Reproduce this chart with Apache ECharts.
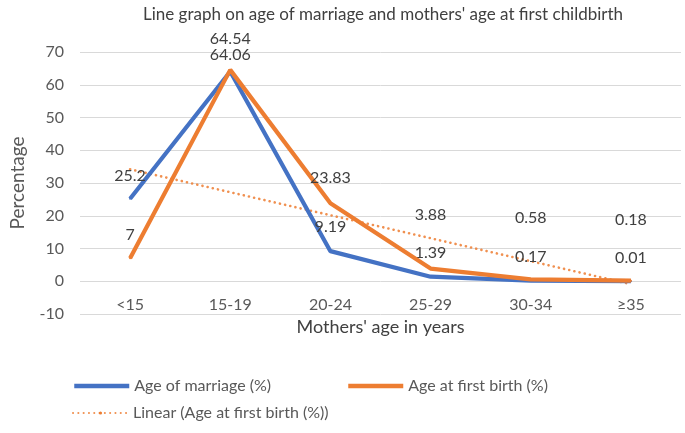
<!DOCTYPE html>
<html>
<head>
<meta charset="utf-8">
<script src="https://cdn.jsdelivr.net/npm/echarts@6/dist/echarts.min.js"></script>
<style>
html,body{margin:0;padding:0;background:#fff;}
#chart{width:685px;height:433px;}
</style>
</head>
<body>
<div id="chart"></div>
<script>
// ---- data ----
const categories = ['<15', '15-19', '20-24', '25-29', '30-34', '≥35'];
const ageOfMarriage = [25.2, 64.06, 9.19, 1.39, 0.17, 0.01];
const ageAtFirstBirth = [7, 64.54, 23.83, 3.88, 0.58, 0.18];
// linear trendline endpoints
const trendStart = 34.2;
const trendEnd = -0.9;
const yTicks = [-10, 0, 10, 20, 30, 40, 50, 60, 70];

const seriesNames = ['Age of marriage (%)', 'Age at first birth (%)', 'Linear (Age at first birth (%))'];

// ---- layout / style (not data) ----
const marriageLabelLift = [23, 17, 24, 24, 24, 23];
const birthLabelLift = [23, 31, 25, 54, 62, 61];
const FONT = 'Lato, "Liberation Sans", sans-serif';
const BLUE = '#4472C4';
const ORANGE = '#ED7D31';
const TXT = '#595959';
const GRID_TOP = 52, GRID_H = 262;
const yMin = yTicks[0], yMax = yTicks[yTicks.length - 1];
// move category axis up to the zero line
const zeroOffset = -GRID_H * (0 - yMin) / (yMax - yMin);

function withLabels(values, lifts) {
  return values.map((v, i) => ({
    value: v,
    label: { offset: [0, -lifts[i]] }
  }));
}

const labelBase = {
  show: true,
  position: 'inside',
  color: '#404040',
  fontFamily: FONT,
  fontSize: 16,
  textBorderWidth: 0,
  formatter: p => String(p.value)
};

const legendText = { fontFamily: FONT, fontSize: 16, color: TXT };

const chart = echarts.init(document.getElementById('chart'), null, { renderer: 'canvas' });
chart.setOption({
  animation: false,
  backgroundColor: '#fff',
  textStyle: { fontFamily: FONT },
  title: {
    text: 'Line graph on age of marriage and mothers\' age at first childbirth',
    left: 138,
    top: 1,
    textStyle: { fontFamily: FONT, fontSize: 17, fontWeight: 'normal', color: '#404040' }
  },
  grid: { left: 72, right: 4, top: GRID_TOP, height: GRID_H },
  legend: [
    {
      data: [seriesNames[0]], left: 67, top: 373,
      itemWidth: 55, itemHeight: 4,
      lineStyle: { width: 4.5 },
      textStyle: legendText
    },
    {
      data: [seriesNames[1]], left: 341, top: 373,
      itemWidth: 55, itemHeight: 4,
      lineStyle: { width: 4.5 },
      textStyle: legendText
    },
    {
      data: [seriesNames[2]], left: 67, top: 400,
      itemWidth: 55, itemHeight: 4,
      textStyle: legendText
    }
  ],
  xAxis: {
    type: 'category',
    data: categories,
    boundaryGap: true,
    position: 'bottom',
    offset: zeroOffset,
    name: 'Mothers\' age in years',
    nameLocation: 'middle',
    nameGap: 37,
    nameTextStyle: { fontFamily: FONT, fontSize: 18, color: '#404040' },
    axisLine: { show: false, onZero: false },
    axisTick: { show: false },
    axisLabel: { margin: 16, fontFamily: FONT, fontSize: 16, color: TXT },
    splitLine: { show: false }
  },
  yAxis: {
    type: 'value',
    min: yMin,
    max: yMax,
    interval: 10,
    name: 'Percentage',
    nameLocation: 'middle',
    nameRotate: 90,
    nameGap: 53,
    nameTextStyle: { fontFamily: FONT, fontSize: 19, color: TXT },
    axisLine: { show: false },
    axisTick: { show: false },
    axisLabel: { margin: 16, fontFamily: FONT, fontSize: 16, color: TXT },
    splitLine: { lineStyle: { color: '#d9d9d9', width: 1 } }
  },
  series: [
    {
      name: seriesNames[2],
      type: 'line',
      data: [[categories[0], trendStart], [categories[categories.length - 1], trendEnd]],
      symbol: 'none',
      lineStyle: { color: ORANGE, width: 2.6, type: [0.1, 5.2], cap: 'round', opacity: 0.85 },
      itemStyle: { color: ORANGE },
      z: 1
    },
    {
      name: seriesNames[0],
      type: 'line',
      data: withLabels(ageOfMarriage, marriageLabelLift),
      symbol: 'circle',
      symbolSize: 2,
      lineStyle: { color: BLUE, width: 4.2 },
      itemStyle: { color: BLUE },
      label: labelBase,
      z: 3
    },
    {
      name: seriesNames[1],
      type: 'line',
      data: withLabels(ageAtFirstBirth, birthLabelLift),
      symbol: 'circle',
      symbolSize: 2,
      lineStyle: { color: ORANGE, width: 4.2 },
      itemStyle: { color: ORANGE },
      label: labelBase,
      z: 4
    }
  ]
});
</script>
</body>
</html>
